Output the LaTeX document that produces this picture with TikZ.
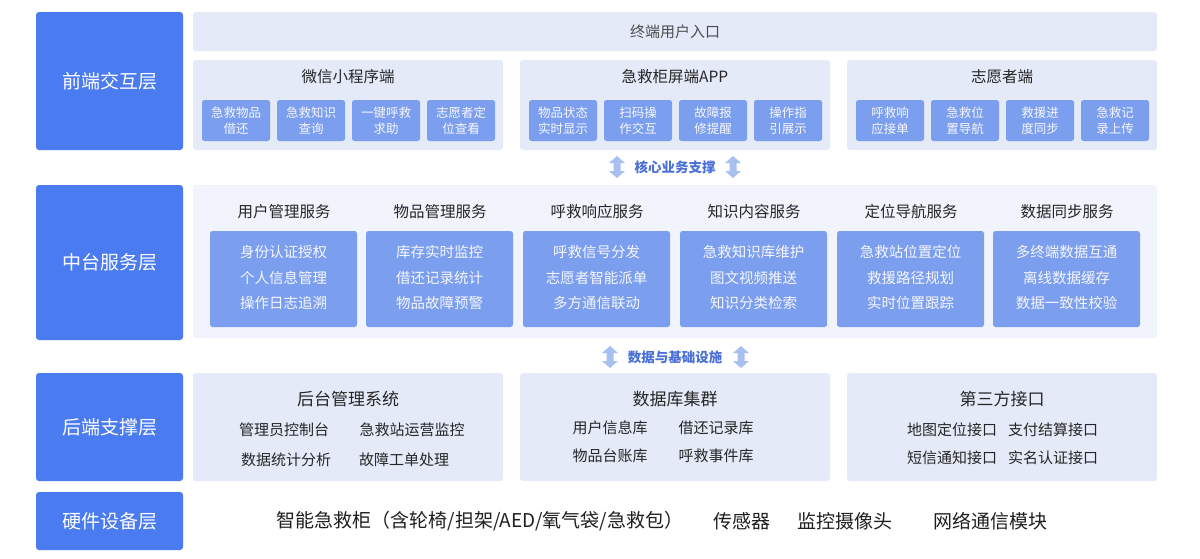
\documentclass[tikz,border=0pt]{standalone}
\usepackage{fontspec}
\setmainfont{Noto Sans CJK SC}
\begin{document}
\begin{tikzpicture}[x=1pt,y=-1pt,
  layer/.style={fill=lay,rounded corners=3pt,text=white,font=\fontsize{19}{22}\selectfont},
  panel/.style={fill=pan,rounded corners=3pt},
  mid/.style={fill=midc,rounded corners=3pt},
  small/.style={fill=box,rounded corners=2.5pt,text=white!92!box,font=\fontsize{12.5}{16}\selectfont,align=center,inner sep=0pt},
  sbox/.style={fill=box,rounded corners=2.5pt,inner sep=0pt},
  ttl/.style={text=black!85,font=\fontsize{15.5}{18}\selectfont},
  item/.style={text=white!92!box,font=\fontsize{14.5}{17}\selectfont},
  bitem/.style={text=black!85,font=\fontsize{15}{18}\selectfont},
  arr/.style={fill=arrc},
  atxt/.style={text=atc,font=\bfseries\fontsize{13.5}{16}\selectfont}]
\definecolor{lay}{HTML}{4A7BF0}
\definecolor{pan}{HTML}{E4EAF8}
\definecolor{midc}{HTML}{F1F4FC}
\definecolor{box}{HTML}{7C9EEE}
\definecolor{arrc}{HTML}{A8C0F0}
\definecolor{atc}{HTML}{4A70D8}
\useasboundingbox (0,0) rectangle (1200,558);
\fill[white] (0,0) rectangle (1200,558);
% layers
\path[layer] (36,12) rectangle (183,150) node[pos=.5] (l1) {前端交互层};
\path[layer] (36,185) rectangle (183,340) node[pos=.5] (l2) {中台服务层};
\path[layer] (36,373) rectangle (183,481) node[pos=.5] (l3) {后端支撑层};
\path[layer] (36,492) rectangle (183,550) node[pos=.5] (l4) {硬件设备层};
% front
\path[panel] (193,12) rectangle (1157,51) node[pos=.5,text=black!70,font=\fontsize{15}{18}\selectfont] (entry) {终端用户入口};
\foreach \px/\t [count=\i] in {193/微信小程序端,520/急救柜屏端APP,847/志愿者端}{
  \path[panel] (\px,60) rectangle ({\px+310},150);
  \node[ttl] (ft\i) at ({\px+155},77) {\t};
}
\def\sb#1#2#3{\path[sbox] (#1,100) rectangle ({#1+68},141); \node[small] (#2) at ({#1+34},120.5) {#3};}
\sb{202}{a1}{急救物品\\借还}
\sb{277}{a2}{急救知识\\查询}
\sb{352}{a3}{一键呼救\\求助}
\sb{427}{a4}{志愿者定\\位查看}
\sb{529}{b1}{物品状态\\实时显示}
\sb{604}{b2}{扫码操\\作交互}
\sb{679}{b3}{故障报\\修提醒}
\sb{754}{b4}{操作指\\引展示}
\sb{856}{c1}{呼救响\\应接单}
\sb{931}{c2}{急救位\\置导航}
\sb{1006}{c3}{救援进\\度同步}
\sb{1081}{c4}{急救记\\录上传}
% arrows
\def\darr#1#2{\fill[arrc] (#1,{#2-11}) -- ({#1+8},{#2-4}) -- ({#1+3.5},{#2-4}) -- ({#1+3.5},{#2+4}) -- ({#1+8},{#2+4}) -- (#1,{#2+11}) -- ({#1-8},{#2+4}) -- ({#1-3.5},{#2+4}) -- ({#1-3.5},{#2-4}) -- ({#1-8},{#2-4}) -- cycle;}
\darr{617}{167}\darr{733}{167}
\node[atxt] (s1) at (675,167) {核心业务支撑};
\darr{610}{357}\darr{741}{357}
\node[atxt] (s2) at (675,357) {数据与基础设施};
% middle
\path[mid] (193,185) rectangle (1157,338);
\foreach \bx/\t/\u/\v/\w [count=\i] in {
 210/用户管理服务/身份认证授权/个人信息管理/操作日志追溯,
 366/物品管理服务/库存实时监控/借还记录统计/物品故障预警,
 523/呼救响应服务/呼救信号分发/志愿者智能派单/多方通信联动,
 680/知识内容服务/急救知识库维护/图文视频推送/知识分类检索,
 837/定位导航服务/急救站位置定位/救援路径规划/实时位置跟踪,
 993/数据同步服务/多终端数据互通/离线数据缓存/数据一致性校验}{
  \node[ttl] (mt\i) at ({\bx+74},212) {\t};
  \path[sbox] (\bx,231) rectangle ({\bx+147},327);
  \node[item] (m\i a) at ({\bx+73.5},252) {\u};
  \node[item] (m\i b) at ({\bx+73.5},278) {\v};
  \node[item] (m\i c) at ({\bx+73.5},303) {\w};
}
% back
\foreach \px/\t [count=\i] in {193/后台管理系统,520/数据库集群,847/第三方接口}{
  \path[panel] (\px,373) rectangle ({\px+310},481);
  \node[ttl,font=\fontsize{17}{20}\selectfont] (bt\i) at ({\px+155},399) {\t};
}
\node[bitem] (p1) at (284,430) {管理员控制台};
\node[bitem] (p2) at (412,430) {急救站运营监控};
\node[bitem] (p3) at (286,460) {数据统计分析};
\node[bitem] (p4) at (404,460) {故障工单处理};
\node[bitem] (q1) at (610,428) {用户信息库};
\node[bitem] (q2) at (716,428) {借还记录库};
\node[bitem] (q3) at (610,456) {物品台账库};
\node[bitem] (q4) at (716,456) {呼救事件库};
\node[bitem] (r1) at (952,430) {地图定位接口};
\node[bitem] (r2) at (1053,430) {支付结算接口};
\node[bitem] (r3) at (952,458) {短信通知接口};
\node[bitem] (r4) at (1053,458) {实名认证接口};
% hardware
\tikzset{hw/.style={text=black!88,font=\fontsize{19}{22}\selectfont}}
\node[hw] (h1) at (480,521) {智能急救柜（含轮椅/担架/AED/氧气袋/急救包）};
\node[hw] (h2) at (742,521) {传感器};
\node[hw] (h3) at (845,521) {监控摄像头};
\node[hw] (h4) at (990,521) {网络通信模块};
\end{tikzpicture}
\end{document}
